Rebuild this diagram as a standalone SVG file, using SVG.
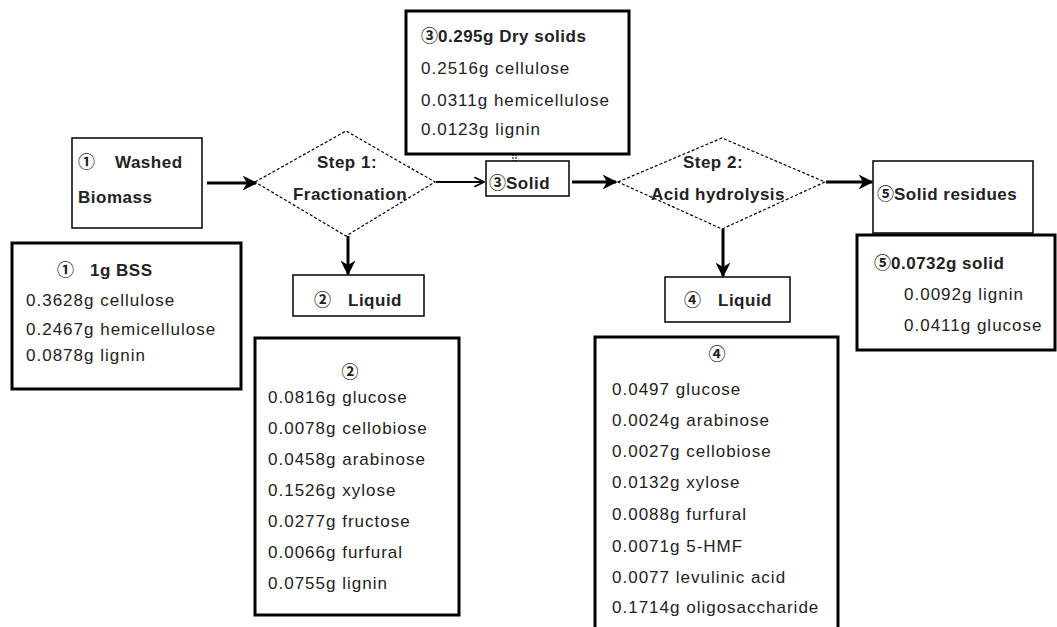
<svg xmlns="http://www.w3.org/2000/svg" width="1057" height="627" viewBox="0 0 1057 627">
<style>
text{font-family:"Liberation Sans","DejaVu Sans",sans-serif;font-size:17px;fill:#222;letter-spacing:1px}
.b{font-weight:bold;letter-spacing:0.5px}
.c{font-family:"Noto Sans CJK SC",sans-serif;font-weight:bold;letter-spacing:0}
.thin{fill:#fff;stroke:#000;stroke-width:1.5}
.thick{fill:#fff;stroke:#000;stroke-width:3}
.dia{fill:#fff;stroke:#000;stroke-width:1.2;stroke-dasharray:3 2}
.arr{stroke:#000;stroke-width:3;fill:none}
.arr2{stroke:#000;stroke-width:2;fill:none}
.m{text-anchor:middle}
</style>
<defs>
<marker id="ah" viewBox="0 0 10 10" refX="9" refY="5" markerWidth="5" markerHeight="5" orient="auto" markerUnits="strokeWidth">
<path d="M0,0 L10,5 L0,10 L3,5 z" fill="#000"/>
</marker>
<marker id="ah2" viewBox="0 0 10 10" refX="9" refY="5" markerWidth="6" markerHeight="6" orient="auto" markerUnits="strokeWidth">
<path d="M1,1 L9,5 L1,9" fill="none" stroke="#000" stroke-width="1.5"/>
</marker>
</defs>
<rect width="1057" height="627" fill="#fff"/>
<g id="connectors">
<line class="arr" x1="207" y1="183" x2="256" y2="183" marker-end="url(#ah)"/>
<line class="arr2" x1="436" y1="182" x2="484" y2="182" marker-end="url(#ah2)"/>
<line class="arr" x1="572" y1="182" x2="616" y2="182" marker-end="url(#ah)"/>
<line class="arr" x1="826" y1="182" x2="872" y2="182" marker-end="url(#ah)"/>
<line class="arr" x1="348" y1="236" x2="348" y2="274" marker-end="url(#ah)"/>
<line class="arr" x1="723" y1="229" x2="723" y2="276" marker-end="url(#ah)"/>
<line stroke="#000" stroke-width="1" x1="513" y1="154" x2="513" y2="161" stroke-dasharray="2 1"/>
<line stroke="#000" stroke-width="1" x1="516" y1="154" x2="516" y2="161" stroke-dasharray="2 1"/>
</g>
<g id="washed">
<rect class="thin" x="72" y="138" width="130" height="90"/>
<text class="c" x="78" y="168">①</text>
<text class="b" x="115" y="168">Washed</text>
<text class="b" x="78" y="203">Biomass</text>
</g>
<g id="bss">
<rect class="thick" x="12" y="243" width="229" height="146"/>
<text class="c" x="57" y="276">①</text>
<text class="b" x="90" y="276">1g BSS</text>
<text x="26" y="306">0.3628g cellulose</text>
<text x="26" y="335">0.2467g hemicellulose</text>
<text x="26" y="361">0.0878g lignin</text>
</g>
<g id="step1">
<polygon class="dia" points="255,182 346,131 435,182 346,236"/>
<text class="b m" x="347" y="168">Step 1:</text>
<text class="b m" x="350" y="200">Fractionation</text>
</g>
<g id="liquid2">
<rect class="thin" x="293" y="275" width="131" height="41"/>
<text class="c" x="314" y="306">②</text>
<text class="b" x="348" y="306">Liquid</text>
</g>
<g id="list2">
<rect class="thick" x="255" y="338" width="204" height="277"/>
<text class="c m" x="350" y="378">②</text>
<text x="268" y="403">0.0816g glucose</text>
<text x="268" y="434">0.0078g cellobiose</text>
<text x="268" y="465">0.0458g arabinose</text>
<text x="268" y="496">0.1526g xylose</text>
<text x="268" y="527">0.0277g fructose</text>
<text x="268" y="558">0.0066g furfural</text>
<text x="268" y="589">0.0755g lignin</text>
</g>
<g id="solid3">
<rect class="thin" x="486" y="161" width="83" height="35"/>
<text x="489" y="189"><tspan class="c">③</tspan><tspan class="b">Solid</tspan></text>
</g>
<g id="drysolids">
<rect class="thick" x="406" y="11" width="223" height="143"/>
<text x="421" y="42"><tspan class="c">③</tspan><tspan class="b">0.295g Dry solids</tspan></text>
<text x="421" y="74">0.2516g cellulose</text>
<text x="421" y="106">0.0311g hemicellulose</text>
<text x="421" y="135">0.0123g lignin</text>
</g>
<g id="step2">
<polygon class="dia" points="618,182 722,138 825,182 722,229"/>
<text class="b m" x="713" y="168">Step 2:</text>
<text class="b m" x="718" y="200">Acid hydrolysis</text>
</g>
<g id="residues">
<rect class="thin" x="873" y="161" width="160" height="72"/>
<text x="877" y="200"><tspan class="c">⑤</tspan><tspan class="b">Solid residues</tspan></text>
</g>
<g id="solid5">
<rect class="thick" x="857" y="235" width="198" height="115"/>
<text x="874" y="269"><tspan class="c">⑤</tspan><tspan class="b">0.0732g solid</tspan></text>
<text x="904" y="300">0.0092g lignin</text>
<text x="904" y="331">0.0411g glucose</text>
</g>
<g id="liquid4">
<rect class="thin" x="665" y="277" width="125" height="45"/>
<text class="c" x="684" y="306">④</text>
<text class="b" x="718" y="306">Liquid</text>
</g>
<g id="list4">
<rect class="thick" x="595" y="337" width="243" height="310"/>
<text class="c m" x="717" y="360">④</text>
<text x="612" y="395">0.0497 glucose</text>
<text x="612" y="426">0.0024g arabinose</text>
<text x="612" y="457">0.0027g cellobiose</text>
<text x="612" y="488">0.0132g xylose</text>
<text x="612" y="520">0.0088g furfural</text>
<text x="612" y="552">0.0071g 5-HMF</text>
<text x="612" y="583">0.0077 levulinic acid</text>
<text x="612" y="613">0.1714g oligosaccharide</text>
</g>
</svg>
